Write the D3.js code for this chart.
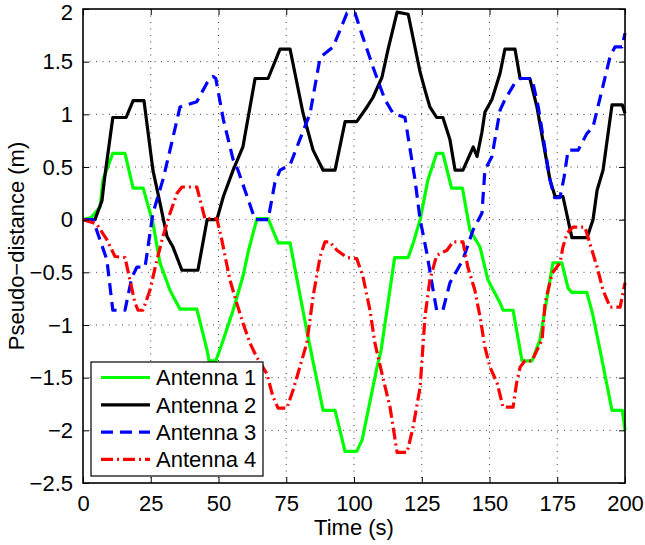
<!DOCTYPE html>
<html>
<head>
<meta charset="utf-8">
<script src="https://cdn.jsdelivr.net/npm/d3@7"></script>
<style>
  body { margin: 0; background: #fff; }
  svg text { font-family: "Liberation Sans", Arial, sans-serif; fill: #000; }
</style>
</head>
<body>
<svg id="chart" width="645" height="545"></svg>
<script>
// data: [time (s), pseudo-distance (m)]
const antenna1 = [[0,0],[3,0.02],[6.3,0.12],[7.4,0.38],[11,0.63],[15.5,0.63],[18.5,0.30],[22.2,0.30],[25.8,-0.03],[28.4,-0.41],[32.1,-0.67],[35.8,-0.85],[42,-0.85],[45.8,-1.24],[46.5,-1.34],[49,-1.34],[51,-1.2],[55.4,-0.86],[59,-0.54],[61,-0.3],[64.2,0.01],[68.3,0.01],[72,-0.22],[76.4,-0.22],[83,-1.11],[88.6,-1.81],[93,-1.81],[96.7,-2.2],[101,-2.2],[103,-2.09],[108.5,-1.4],[110,-1.24],[115,-0.36],[120,-0.36],[122,-0.21],[124.4,0.0],[127.3,0.38],[130.5,0.63],[132.8,0.63],[136,0.30],[140,0.30],[142.8,-0.10],[146.5,-0.26],[149.4,-0.57],[153.9,-0.79],[155,-0.86],[158.7,-0.86],[161.3,-1.24],[162,-1.34],[165.7,-1.34],[168.6,-1.14],[173.4,-0.41],[176.7,-0.41],[179,-0.65],[180.4,-0.69],[185.9,-0.69],[188,-0.89],[190.8,-1.24],[195.2,-1.81],[199,-1.81],[200,-2.0]];
const antenna2 = [[0,0],[4.4,0],[7,0.18],[8,0.4],[11,0.97],[15.9,0.97],[18.5,1.13],[22.5,1.13],[25.8,0.47],[28.4,0.16],[31,-0.16],[33.2,-0.26],[36.5,-0.48],[42.4,-0.48],[45.8,0.0],[49.4,0.0],[51.8,0.22],[55.4,0.47],[59,0.69],[63.5,1.34],[68.3,1.34],[72.7,1.62],[76.4,1.62],[81.2,1.01],[84.9,0.66],[88.6,0.47],[93,0.47],[96.7,0.93],[101,0.93],[104.8,1.07],[107,1.16],[110.3,1.35],[112.5,1.61],[115.9,1.97],[120,1.95],[124.4,1.40],[126.2,1.23],[128,1.07],[130.5,0.97],[132.8,0.97],[135.4,0.76],[137.3,0.47],[140.2,0.47],[144,0.69],[145.4,0.6],[147.2,0.83],[148.3,1.02],[150.9,1.14],[153.9,1.39],[155.7,1.62],[159.4,1.62],[161.3,1.34],[164.9,1.34],[167.5,1.07],[172.3,0.38],[174.2,0.22],[177.1,0.22],[180.4,-0.17],[186,-0.17],[188.2,0.0],[189.7,0.28],[191.9,0.47],[195.2,1.09],[199,1.09],[200,1.01]];
const antenna3 = [[0,0],[3.7,0],[8.8,-0.38],[11,-0.86],[15.5,-0.86],[18,-0.55],[19.9,-0.45],[22.9,-0.45],[25.8,0.06],[29.5,0.38],[32.1,0.66],[35.8,1.07],[42,1.12],[45.8,1.3],[48,1.36],[49,1.34],[51.8,0.95],[55.4,0.57],[57.2,0.47],[63.5,0.0],[68.3,0.0],[70.8,0.35],[72.7,0.47],[76.4,0.52],[80,0.76],[83.8,1.01],[87.5,1.54],[92.3,1.64],[97.4,1.96],[100.4,1.96],[103.3,1.73],[107,1.45],[111.4,1.14],[114.4,1.01],[118.8,0.97],[122.5,0.38],[124.4,0.0],[126.9,-0.32],[129.2,-0.67],[130.5,-0.86],[132.8,-0.86],[135.4,-0.60],[140.2,-0.38],[143.9,-0.10],[147.2,0.06],[148.3,0.47],[150.9,0.6],[153.9,1.04],[155.7,1.14],[159.4,1.30],[161.3,1.34],[165.7,1.34],[168,1.07],[172.3,0.38],[174,0.21],[176,0.21],[177.5,0.4],[179,0.66],[182.7,0.66],[186,0.82],[188.2,0.88],[191.5,1.23],[194.5,1.55],[196.3,1.64],[198.9,1.64],[200,1.77]];
const antenna4 = [[0,0],[5,-0.04],[8.8,-0.19],[11.8,-0.35],[15.5,-0.36],[17.3,-0.57],[19.2,-0.79],[20.3,-0.86],[22.1,-0.86],[24.7,-0.67],[27.3,-0.38],[29.5,-0.16],[32.1,0.06],[34.7,0.25],[36.5,0.31],[42,0.31],[45,0.01],[49.4,0.01],[51.2,-0.19],[54.2,-0.57],[56.7,-0.79],[59,-0.98],[61.6,-1.17],[64,-1.30],[67.8,-1.46],[70.1,-1.68],[72,-1.79],[75.2,-1.79],[77.5,-1.62],[80,-1.40],[82.6,-1.17],[84.9,-0.73],[87.5,-0.35],[89.3,-0.21],[91,-0.21],[93.7,-0.29],[97.4,-0.36],[101,-0.37],[103.3,-0.54],[105.9,-0.86],[107.7,-1.17],[110.3,-1.46],[113.3,-1.78],[115.9,-2.21],[119.6,-2.21],[121.8,-1.97],[124.4,-1.59],[126.2,-0.92],[128,-0.57],[130.5,-0.34],[134.3,-0.29],[136.6,-0.21],[140.2,-0.21],[142,-0.45],[144.6,-0.67],[146.5,-0.92],[148.3,-1.21],[150.2,-1.40],[152.8,-1.55],[155,-1.78],[158.7,-1.78],[160,-1.55],[161.3,-1.40],[163.1,-1.34],[165.7,-1.34],[167.5,-1.24],[169.4,-1.14],[170.5,-0.79],[173.1,-0.51],[176,-0.41],[177.1,-0.26],[178.6,-0.13],[180.8,-0.07],[185.2,-0.07],[187.8,-0.29],[189.7,-0.45],[191.9,-0.67],[194.5,-0.83],[198.2,-0.83],[200,-0.60]];

const seriesNames = ["Antenna 1", "Antenna 2", "Antenna 3", "Antenna 4"];
const xTicks = [0, 25, 50, 75, 100, 125, 150, 175, 200];
const yTicks = [-2.5, -2, -1.5, -1, -0.5, 0, 0.5, 1, 1.5, 2];

// styles (matlab-ish)
const styles = [
  { color: "#00ff00", dash: null },
  { color: "#000000", dash: null },
  { color: "#0000ff", dash: "12,7" },
  { color: "#ff0000", dash: "12,4,2,4" }
];

const margin = { top: 9, right: 20, bottom: 62, left: 83 };
const W = 645, H = 545;
const width = W - margin.left - margin.right;
const height = H - margin.top - margin.bottom;

const svg = d3.select("#chart");
const g = svg.append("g").attr("transform", `translate(${margin.left},${margin.top})`);

const x = d3.scaleLinear().domain([0, 200]).range([0, width]);
const y = d3.scaleLinear().domain([-2.5, 2]).range([height, 0]);

const fmt = d => (d < 0 ? "\u2212" : "") + Math.abs(d);

// grid (dotted)
g.append("g").selectAll("line.gx")
  .data(xTicks.slice(1, -1))
  .join("line")
  .attr("x1", d => x(d)).attr("x2", d => x(d))
  .attr("y1", 0).attr("y2", height)
  .attr("stroke", "#000").attr("stroke-width", 1)
  .attr("stroke-dasharray", "1,5.5").attr("opacity", 0.75);
g.append("g").selectAll("line.gy")
  .data(yTicks.slice(1, -1))
  .join("line")
  .attr("y1", d => y(d)).attr("y2", d => y(d))
  .attr("x1", 0).attr("x2", width)
  .attr("stroke", "#000").attr("stroke-width", 1)
  .attr("stroke-dasharray", "1,5.5").attr("opacity", 0.75);

// the curves
const line = d3.line().x(d => x(d[0])).y(d => y(d[1]));
const allSeries = [antenna1, antenna2, antenna3, antenna4];
g.append("g").selectAll("path")
  .data(allSeries)
  .join("path")
  .attr("d", line)
  .attr("fill", "none")
  .attr("stroke", (d, i) => styles[i].color)
  .attr("stroke-width", 3.2)
  .attr("stroke-linejoin", "round")
  .attr("stroke-dasharray", (d, i) => styles[i].dash);

// axes: ticks pointing inward on all four sides
const tl = 6;
const xAxisB = d3.axisBottom(x).tickValues(xTicks).tickSize(-tl).tickPadding(12).tickFormat(fmt);
const xAxisT = d3.axisTop(x).tickValues(xTicks).tickSize(-tl).tickFormat("");
const yAxisL = d3.axisLeft(y).tickValues(yTicks).tickSize(-tl).tickPadding(10).tickFormat(fmt);
const yAxisR = d3.axisRight(y).tickValues(yTicks).tickSize(-tl).tickFormat("");

g.append("g").attr("class", "axis").attr("transform", `translate(0,${height})`).call(xAxisB);
g.append("g").attr("class", "axis").call(xAxisT);
const yl = g.append("g").attr("class", "axis").call(yAxisL);
g.append("g").attr("class", "axis").attr("transform", `translate(${width},0)`).call(yAxisR);

g.selectAll(".axis .domain").remove();
g.selectAll(".axis line").attr("stroke", "#000").attr("stroke-width", 1);
g.selectAll(".axis text")
  .style("font-family", "'Liberation Sans', Arial, sans-serif")
  .style("font-size", "22px").attr("fill", "#000");
// top label sits a bit lower so it is not cut by the window edge
yl.selectAll(".tick").filter(d => d === 2).select("text").attr("y", 3);

g.append("rect")
  .attr("width", width).attr("height", height)
  .attr("fill", "none").attr("stroke", "#000").attr("stroke-width", 1.6);

// axis labels
svg.append("text")
  .attr("x", margin.left + width / 2).attr("y", 535)
  .attr("text-anchor", "middle")
  .style("font-size", "22px")
  .text("Time (s)");
svg.append("text")
  .attr("transform", `translate(24,${margin.top + height / 2}) rotate(-90)`)
  .attr("text-anchor", "middle")
  .style("font-size", "22px")
  .text("Pseudo\u2212distance (m)");

// legend
const lg = svg.append("g").attr("transform", "translate(91,362)");
lg.append("rect")
  .attr("width", 172).attr("height", 114)
  .attr("fill", "#fff").attr("stroke", "#000").attr("stroke-width", 1.2);
const items = lg.selectAll("g.item")
  .data(seriesNames)
  .join("g")
  .attr("transform", (d, i) => `translate(0,${15.5 + i * 27.3})`);
items.append("line")
  .attr("x1", 10).attr("x2", 59)
  .attr("stroke", (d, i) => styles[i].color)
  .attr("stroke-width", 3.2)
  .attr("stroke-dasharray", (d, i) => styles[i].dash);
items.append("text")
  .attr("x", 65).attr("y", 0).attr("dy", "0.36em")
  .style("font-size", "22px")
  .text(d => d);
</script>
</body>
</html>
